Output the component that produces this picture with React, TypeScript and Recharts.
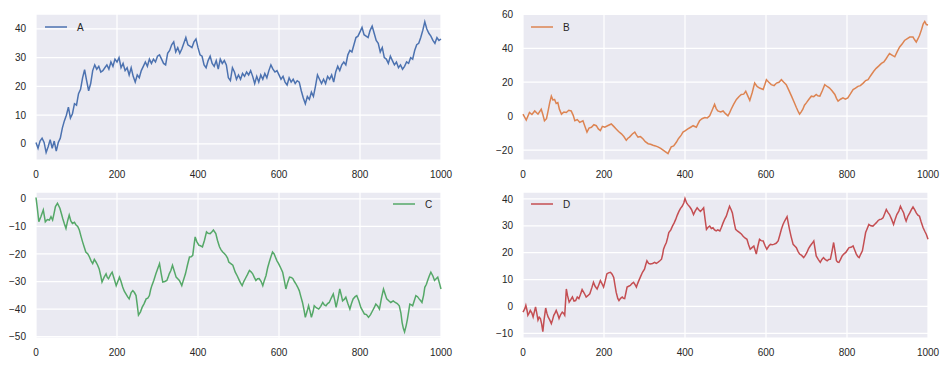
import { LineChart, Line, XAxis, YAxis, CartesianGrid } from 'recharts'

// x positions shared by every panel
const X_TICKS = [0, 200, 400, 600, 800, 1000]

// [step, value] pairs
const A_POINTS: [number, number][] = [
  [0, 0.5], [5, -1.5], [10, 1.0], [15, 2.0], [20, 0.5], [25, -3.0], [30, -1.0], [35, 1.5], [40, -1.5], [45, 1.0],
  [50, -2.5], [55, 0.5], [60, 2.0], [65, 5.5], [70, 8.0], [75, 10.0], [80, 12.8], [85, 9.0], [90, 10.5], [95, 14.0],
  [100, 13.5], [105, 17.5], [110, 19.0], [115, 23.0], [120, 25.8], [125, 22.0], [130, 18.5], [135, 21.0], [140, 25.5], [145, 27.5],
  [150, 26.0], [155, 27.0], [160, 25.0], [165, 25.5], [170, 26.5], [175, 27.5], [180, 26.0], [185, 28.5], [190, 27.0], [195, 29.5],
  [200, 28.5], [205, 30.0], [210, 26.5], [215, 28.0], [220, 25.5], [225, 26.5], [230, 24.0], [235, 26.5], [240, 23.5], [245, 21.5],
  [250, 24.0], [255, 23.0], [260, 25.5], [265, 27.0], [270, 28.5], [275, 27.0], [280, 29.5], [285, 28.0], [290, 29.5], [295, 28.5],
  [300, 30.5], [305, 31.0], [310, 29.5], [315, 28.0], [320, 27.5], [325, 31.5], [330, 32.5], [335, 34.5], [340, 35.5], [345, 32.0],
  [350, 33.5], [355, 31.5], [360, 33.0], [365, 35.0], [370, 37.0], [375, 34.5], [380, 34.0], [385, 33.5], [390, 35.5], [395, 36.5],
  [400, 33.5], [405, 31.0], [410, 30.5], [415, 27.5], [420, 26.5], [425, 29.0], [430, 30.5], [435, 28.0], [440, 27.0], [445, 29.0],
  [450, 26.0], [455, 29.5], [460, 28.0], [465, 29.0], [470, 27.5], [475, 23.0], [480, 22.0], [485, 26.5], [490, 25.0], [495, 22.5],
  [500, 24.0], [505, 22.5], [510, 24.5], [515, 23.5], [520, 25.0], [525, 24.0], [530, 25.5], [535, 23.5], [540, 21.0], [545, 23.5],
  [550, 21.5], [555, 24.0], [560, 22.5], [565, 24.5], [570, 23.0], [575, 25.5], [580, 27.5], [585, 26.0], [590, 25.0], [595, 25.5],
  [600, 24.0], [605, 22.5], [610, 23.5], [615, 21.5], [620, 20.5], [625, 23.0], [630, 21.5], [635, 22.5], [640, 21.0], [645, 22.0],
  [650, 21.5], [655, 18.5], [660, 16.0], [665, 14.0], [670, 16.5], [675, 15.5], [680, 18.0], [685, 16.5], [690, 20.0], [695, 24.0],
  [700, 22.5], [705, 21.0], [710, 22.5], [715, 21.0], [720, 23.5], [725, 22.5], [730, 24.0], [735, 21.5], [740, 25.0], [745, 27.0],
  [750, 25.5], [755, 27.5], [760, 28.5], [765, 27.5], [770, 31.0], [775, 32.5], [780, 32.0], [785, 34.5], [790, 37.0], [795, 37.5],
  [800, 39.0], [805, 40.5], [810, 38.0], [815, 37.5], [820, 37.0], [825, 39.5], [830, 41.0], [835, 38.5], [840, 36.0], [845, 35.0],
  [850, 32.0], [855, 33.5], [860, 30.0], [865, 29.5], [870, 28.0], [875, 30.5], [880, 29.0], [885, 27.5], [890, 28.5], [895, 26.5],
  [900, 27.5], [905, 26.0], [910, 27.0], [915, 28.5], [920, 28.0], [925, 30.0], [930, 29.5], [935, 32.5], [940, 34.5], [945, 35.0],
  [950, 37.0], [955, 39.5], [960, 42.5], [965, 40.0], [970, 38.5], [975, 37.5], [980, 36.0], [985, 35.0], [990, 37.0], [995, 36.0],
  [1000, 36.5],
]

const B_POINTS: [number, number][] = [
  [0, 1.2], [8, -2.3], [16, 2.2], [22, 1.0], [29, 3.1], [37, 1.2], [45, 4.1], [49, 1.0], [53, -2.7], [58, -1.5],
  [62, 3.1], [66, 8.0], [70, 11.8], [74, 9.5], [78, 9.9], [82, 7.5], [86, 8.0], [90, 4.0], [95, 1.2], [101, 2.5],
  [107, 2.2], [113, 3.5], [119, 3.1], [124, 0.5], [128, -2.7], [134, -2.0], [140, -3.6], [148, -2.7], [153, -6.0], [158, -9.4],
  [163, -7.0], [169, -6.5], [175, -5.0], [181, -5.6], [186, -7.5], [191, -8.5], [196, -6.0], [202, -6.5], [210, -5.5], [218, -4.6],
  [224, -6.0], [230, -7.5], [236, -9.0], [243, -10.4], [249, -12.0], [255, -14.2], [259, -13.0], [263, -12.3], [270, -10.5], [276, -9.4],
  [280, -11.0], [284, -12.3], [290, -12.0], [296, -13.3], [302, -15.0], [309, -16.2], [315, -16.5], [321, -17.1], [327, -17.5], [333, -18.1],
  [340, -19.0], [346, -20.0], [352, -21.0], [358, -22.0], [362, -20.0], [366, -18.1], [372, -17.5], [379, -15.2], [383, -13.5], [387, -12.3],
  [391, -11.0], [395, -9.4], [401, -8.5], [407, -7.5], [414, -6.5], [420, -5.6], [428, -6.5], [432, -4.5], [436, -2.7], [442, -1.5],
  [449, -0.8], [455, -1.0], [461, 0.2], [467, 3.5], [473, 7.0], [477, 4.5], [481, 3.1], [488, 2.5], [494, 3.1], [500, 1.5],
  [506, 0.2], [510, 2.0], [514, 4.1], [520, 7.0], [527, 9.9], [533, 11.5], [539, 12.8], [545, 13.0], [550, 14.7], [555, 12.0],
  [560, 9.3], [566, 14.0], [572, 19.5], [578, 17.5], [584, 16.6], [593, 15.7], [597, 18.5], [601, 21.5], [607, 20.0], [613, 18.6],
  [620, 18.0], [626, 19.5], [632, 20.0], [638, 21.5], [644, 20.0], [650, 18.6], [656, 15.5], [663, 11.8], [669, 8.5], [675, 5.1],
  [680, 2.5], [683, 1.2], [687, 2.5], [691, 4.1], [695, 6.5], [700, 8.0], [706, 10.0], [712, 11.8], [718, 11.5], [724, 12.8],
  [728, 12.0], [733, 11.8], [739, 15.0], [745, 18.6], [751, 17.5], [757, 16.6], [763, 15.0], [770, 12.8], [774, 10.5], [778, 8.9],
  [784, 10.0], [790, 10.8], [796, 10.0], [802, 10.8], [808, 13.0], [815, 15.7], [821, 16.5], [827, 17.6], [833, 18.0], [840, 19.5],
  [846, 21.0], [852, 21.5], [856, 23.0], [860, 24.4], [866, 26.5], [872, 28.2], [878, 29.5], [885, 31.1], [891, 32.0], [897, 34.0],
  [901, 35.5], [905, 36.9], [911, 36.0], [918, 35.0], [924, 38.0], [930, 40.8], [936, 42.5], [942, 44.6], [948, 45.5], [955, 46.6],
  [963, 46.6], [967, 45.0], [971, 43.7], [975, 45.5], [979, 47.5], [984, 51.0], [988, 54.3], [992, 55.8], [996, 54.0], [1000, 53.7],
]

const C_POINTS: [number, number][] = [
  [0, 0.5], [3, -3.0], [7, -8.3], [12, -6.5], [18, -4.0], [23, -8.3], [28, -7.5], [33, -7.7], [37, -6.5], [41, -7.7],
  [45, -5.0], [48, -2.8], [53, -1.6], [59, -3.4], [63, -5.5], [66, -7.1], [70, -9.0], [74, -10.7], [78, -8.0], [82, -5.9],
  [86, -8.0], [90, -8.9], [95, -8.5], [99, -9.5], [103, -10.0], [107, -11.3], [111, -13.5], [115, -15.6], [119, -17.5], [123, -19.3],
  [128, -20.0], [132, -21.1], [136, -22.5], [140, -23.5], [144, -22.0], [148, -22.9], [152, -24.0], [156, -25.4], [160, -28.0], [163, -30.2],
  [168, -28.5], [173, -27.2], [176, -28.5], [179, -29.0], [184, -27.5], [188, -26.6], [193, -29.0], [198, -31.5], [202, -30.0], [206, -28.4],
  [210, -30.0], [214, -32.0], [218, -33.5], [222, -34.5], [226, -35.5], [230, -36.3], [235, -34.0], [239, -33.3], [243, -34.0], [247, -35.1],
  [250, -38.5], [253, -42.2], [258, -41.0], [262, -39.4], [267, -38.0], [272, -36.3], [276, -36.0], [280, -35.1], [283, -33.0], [286, -31.5],
  [291, -29.5], [296, -27.2], [300, -25.5], [305, -23.5], [309, -27.0], [313, -30.2], [318, -30.0], [323, -29.6], [326, -28.5], [329, -27.2],
  [333, -26.0], [337, -24.1], [341, -26.0], [346, -28.4], [350, -29.0], [354, -29.6], [357, -30.5], [360, -31.5], [364, -29.5], [369, -27.2],
  [374, -24.0], [379, -21.1], [383, -21.0], [387, -20.5], [390, -17.0], [393, -13.8], [397, -15.5], [402, -16.8], [406, -17.0], [411, -17.4],
  [416, -15.0], [421, -12.0], [425, -12.5], [430, -12.6], [434, -12.0], [438, -11.3], [444, -12.6], [448, -15.0], [453, -17.4], [457, -18.5],
  [461, -19.3], [465, -19.8], [469, -20.5], [473, -21.5], [476, -22.9], [481, -23.5], [486, -24.1], [492, -26.6], [497, -28.0], [502, -29.6],
  [505, -30.5], [509, -31.5], [513, -30.0], [517, -28.9], [522, -27.5], [527, -26.0], [531, -26.5], [535, -27.2], [539, -28.5], [543, -29.6],
  [547, -29.0], [551, -28.9], [556, -30.0], [560, -31.5], [564, -29.5], [568, -27.8], [572, -25.0], [576, -22.9], [580, -21.0], [584, -19.3],
  [588, -20.0], [591, -21.1], [595, -22.5], [599, -23.5], [604, -25.0], [609, -26.6], [613, -29.5], [617, -32.7], [621, -30.5], [626, -28.4],
  [630, -28.5], [634, -28.9], [638, -30.0], [642, -30.9], [646, -32.0], [650, -33.3], [654, -35.5], [658, -37.6], [662, -40.5], [665, -43.0],
  [669, -41.0], [673, -38.8], [677, -41.0], [680, -43.0], [684, -41.0], [687, -38.8], [692, -39.5], [698, -40.0], [703, -39.0], [708, -37.6],
  [712, -38.5], [716, -38.8], [720, -38.0], [724, -37.6], [729, -36.0], [734, -34.5], [738, -37.0], [741, -39.4], [746, -36.0], [750, -32.7],
  [754, -35.0], [757, -37.0], [761, -36.5], [765, -35.7], [770, -38.0], [775, -40.0], [779, -38.0], [783, -36.3], [788, -35.5], [792, -35.1],
  [797, -37.0], [802, -39.4], [806, -40.5], [811, -41.8], [816, -42.0], [821, -43.0], [826, -42.0], [831, -40.6], [835, -39.5], [839, -38.2],
  [844, -39.0], [848, -40.0], [853, -36.0], [858, -32.7], [862, -34.5], [866, -36.3], [871, -37.0], [876, -37.6], [882, -37.0], [887, -37.6],
  [892, -38.0], [897, -38.8], [901, -41.5], [904, -44.9], [907, -47.0], [910, -48.3], [914, -46.0], [917, -43.7], [920, -41.0], [923, -38.2],
  [927, -38.5], [930, -38.8], [934, -37.0], [938, -35.1], [942, -35.5], [946, -36.3], [950, -37.0], [953, -37.6], [957, -35.0], [960, -32.1],
  [964, -31.0], [967, -29.6], [971, -28.0], [975, -26.6], [980, -28.0], [984, -29.6], [988, -29.0], [992, -28.4], [996, -30.5], [1000, -32.7],
]

const D_POINTS: [number, number][] = [
  [0, -2.1], [4, -1.0], [7, 0.4], [10, -1.5], [12, -3.3], [15, -2.5], [18, -1.5], [22, -2.5], [25, -3.9], [28, -2.0],
  [31, -0.2], [34, -2.5], [37, -5.1], [40, -4.0], [43, -4.5], [46, -6.5], [49, -9.4], [52, -5.0], [56, -0.6], [59, -2.5],
  [62, -3.9], [66, -5.0], [70, -6.4], [73, -5.0], [76, -3.3], [79, -2.5], [82, -1.5], [86, -3.0], [89, -4.5], [93, -3.0],
  [97, -2.1], [100, -2.5], [103, -3.3], [105, 1.5], [107, 6.5], [110, 4.0], [114, 1.6], [118, 2.5], [122, 3.5], [126, 2.0],
  [130, 2.2], [134, 3.5], [138, 2.9], [142, 4.5], [146, 6.3], [151, 5.0], [156, 3.5], [160, 4.0], [165, 4.7], [170, 7.0],
  [174, 9.0], [178, 7.5], [183, 6.5], [187, 8.0], [191, 9.6], [195, 8.5], [199, 7.2], [203, 9.5], [207, 12.1], [211, 12.5],
  [216, 12.7], [220, 12.0], [224, 10.8], [227, 8.0], [230, 5.3], [234, 3.0], [237, 2.2], [241, 3.0], [245, 3.5], [248, 3.0],
  [251, 2.9], [254, 5.0], [257, 7.2], [261, 7.5], [265, 7.8], [269, 8.5], [273, 9.0], [277, 8.0], [280, 7.2], [283, 8.5],
  [286, 9.6], [290, 11.0], [295, 12.7], [300, 13.9], [303, 15.5], [306, 17.0], [310, 16.0], [314, 15.8], [320, 16.0], [325, 16.4],
  [329, 16.0], [333, 16.4], [338, 17.0], [342, 17.6], [345, 19.5], [347, 21.3], [350, 22.5], [354, 23.8], [357, 25.5], [360, 27.5],
  [365, 28.5], [369, 29.9], [373, 31.0], [377, 32.4], [381, 34.0], [385, 35.4], [389, 36.5], [393, 37.3], [397, 38.5], [400, 40.2],
  [404, 38.5], [407, 37.9], [412, 37.0], [416, 36.1], [419, 35.0], [421, 34.2], [425, 35.5], [430, 36.7], [434, 36.0], [438, 35.4],
  [442, 36.0], [446, 36.7], [450, 32.0], [453, 28.7], [457, 29.5], [461, 29.9], [465, 29.0], [469, 29.3], [473, 28.5], [477, 28.1],
  [481, 28.5], [486, 28.1], [490, 29.5], [494, 31.1], [498, 32.5], [502, 33.6], [506, 35.5], [510, 37.3], [514, 36.0], [517, 34.8],
  [521, 31.5], [525, 28.7], [530, 28.0], [535, 27.5], [539, 27.0], [543, 26.2], [548, 25.5], [553, 25.0], [557, 23.0], [561, 21.3],
  [566, 22.0], [570, 22.5], [573, 21.0], [576, 19.5], [580, 22.5], [584, 25.0], [588, 24.5], [593, 24.4], [598, 22.5], [602, 21.3],
  [607, 22.5], [611, 23.1], [615, 23.0], [619, 23.1], [625, 23.5], [630, 24.4], [634, 26.5], [638, 28.7], [642, 30.5], [646, 31.8],
  [652, 33.4], [655, 31.0], [658, 28.7], [662, 26.0], [667, 23.1], [671, 22.5], [675, 21.9], [679, 20.5], [683, 19.5], [688, 19.0],
  [693, 18.2], [697, 19.0], [701, 20.1], [705, 21.5], [709, 22.5], [714, 23.5], [718, 24.4], [721, 21.5], [724, 18.8], [729, 17.5],
  [734, 16.4], [738, 17.5], [742, 18.2], [746, 17.5], [751, 17.0], [755, 17.5], [759, 17.6], [763, 20.5], [767, 23.8], [771, 20.0],
  [774, 17.0], [777, 16.5], [780, 16.4], [784, 17.5], [788, 18.8], [792, 19.5], [797, 20.1], [801, 21.0], [805, 21.9], [810, 22.0],
  [815, 22.5], [819, 21.0], [823, 19.5], [827, 18.5], [830, 18.2], [834, 19.5], [838, 20.7], [842, 24.0], [846, 27.5], [850, 29.0],
  [854, 30.5], [859, 30.0], [864, 29.9], [868, 30.5], [872, 31.1], [877, 32.0], [881, 32.4], [885, 32.5], [889, 33.0], [893, 34.5],
  [897, 36.1], [901, 35.0], [905, 34.2], [910, 32.5], [915, 30.5], [919, 32.5], [923, 34.2], [928, 35.5], [932, 37.3], [936, 36.0],
  [940, 34.8], [943, 33.0], [946, 31.8], [950, 33.5], [955, 34.8], [959, 36.0], [963, 37.0], [967, 36.0], [971, 34.8], [975, 34.0],
  [979, 33.6], [983, 31.5], [988, 29.3], [992, 28.0], [996, 26.8], [1000, 25.0],
]

const A_TICKS = [0, 10, 20, 30, 40]
const B_TICKS = [-20, 0, 20, 40, 60]
const C_TICKS = [-50, -40, -30, -20, -10, 0]
const D_TICKS = [-10, 0, 10, 20, 30, 40]

const FONT = '"Liberation Sans", Arial, "DejaVu Sans", sans-serif'
const TEXT = '#262626'
const BG = '#EAEAF2'

const fmt = (v: number) => (v < 0 ? '\u2212' + Math.abs(v) : String(v))

interface PanelProps {
  name: string
  points: [number, number][]
  color: string
  domain: [number, number]
  yTicks: number[]
  left: number
  top: number
  width: number
  height: number
  margin: { top: number; right: number; left: number; bottom: number }
  yWidth: number
  xHeight: number
  legend: { x: number; y: number }
}

function Panel(p: PanelProps) {
  const data = p.points.map(([x, y]) => ({ x, y }))
  return (
    <div style={{ position: 'absolute', left: p.left, top: p.top, width: p.width, height: p.height }}>
      <LineChart width={p.width} height={p.height} data={data} margin={p.margin}>
        <CartesianGrid fill={BG} fillOpacity={1} stroke="#ffffff" strokeWidth={1.25} />
        <XAxis
          dataKey="x"
          type="number"
          domain={[0, 1000]}
          ticks={X_TICKS}
          interval={0}
          axisLine={false}
          tickLine={false}
          tickSize={0}
          tickMargin={11}
          height={p.xHeight}
          tick={{ fontSize: 10, fill: TEXT, fontFamily: FONT }}
        />
        <YAxis
          type="number"
          domain={p.domain}
          ticks={p.yTicks}
          interval={0}
          allowDataOverflow
          axisLine={false}
          tickLine={false}
          tickSize={0}
          tickMargin={10}
          width={p.yWidth}
          tickFormatter={fmt}
          tick={{ fontSize: 10, fill: TEXT, fontFamily: FONT }}
        />
        <Line type="linear" dataKey="y" stroke={p.color} strokeWidth={1.5} dot={false} isAnimationActive={false} />
      </LineChart>
      {/* legend, no frame */}
      <div style={{ position: 'absolute', left: p.legend.x, top: p.legend.y - 7, height: 14, display: 'flex', alignItems: 'center' }}>
        <svg width={23} height={14}>
          <line x1={0} y1={7} x2={22} y2={7} stroke={p.color} strokeWidth={1.5} />
        </svg>
        <span style={{ marginLeft: 9, fontSize: 10, color: TEXT, fontFamily: FONT }}>{p.name}</span>
      </div>
    </div>
  )
}

export default function App() {
  return (
    <div style={{ position: 'absolute', left: 0, top: 0, width: 948, height: 366, background: '#fff', fontFamily: FONT }}>
      <Panel
        name="A" points={A_POINTS} color="#4C72B0" domain={[-5.6, 45.2]} yTicks={A_TICKS}
        left={0} top={0} width={480} height={180}
        margin={{ top: 14, right: 39, left: 0, bottom: 0 }} yWidth={36} xHeight={20}
        legend={{ x: 45, y: 27 }}
      />
      <Panel
        name="B" points={B_POINTS} color="#DD8452" domain={[-25.8, 60.2]} yTicks={B_TICKS}
        left={480} top={0} width={468} height={180}
        margin={{ top: 14, right: 20, left: 0, bottom: 0 }} yWidth={43} xHeight={20}
        legend={{ x: 51, y: 27 }}
      />
      <Panel
        name="C" points={C_POINTS} color="#55A868" domain={[-50.5, 2.5]} yTicks={C_TICKS}
        left={0} top={180} width={480} height={186}
        margin={{ top: 12, right: 39, left: 0, bottom: 0 }} yWidth={36} xHeight={28}
        legend={{ x: 393, y: 24 }}
      />
      <Panel
        name="D" points={D_POINTS} color="#C44E52" domain={[-11.75, 42.6]} yTicks={D_TICKS}
        left={480} top={180} width={468} height={186}
        margin={{ top: 12, right: 20, left: 0, bottom: 0 }} yWidth={43} xHeight={28}
        legend={{ x: 51, y: 24 }}
      />
    </div>
  )
}
